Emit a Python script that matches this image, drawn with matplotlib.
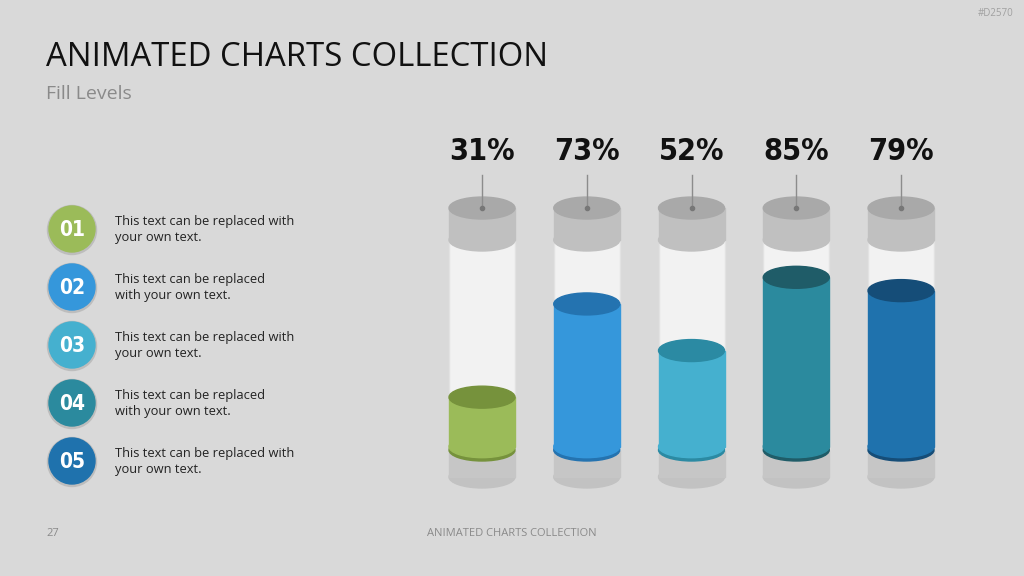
import matplotlib.pyplot as plt
from matplotlib import font_manager
from matplotlib.font_manager import FontProperties
from matplotlib.patches import Ellipse, Rectangle, Circle

# data
labels = ['31%', '73%', '52%', '85%', '79%']
values = [31, 73, 52, 85, 79]
fill_colors = ['#9bbb59', '#3597db', '#45b0cf', '#2b8a9e', '#1f72ad']
top_colors = ['#76923c', '#2473b0', '#2b8aa3', '#1f5c68', '#154d78']
numbers = ['01', '02', '03', '04', '05']
item_text = ['This text can be replaced with\nyour own text.',
             'This text can be replaced\nwith your own text.',
             'This text can be replaced with\nyour own text.',
             'This text can be replaced\nwith your own text.',
             'This text can be replaced with\nyour own text.']

BG = '#d9d9d9'
BODY = ['Open Sans', 'DejaVu Sans']

# look for a condensed bold face for the big numbers
cands = [f for f in font_manager.fontManager.ttflist
         if ('ondensed' in f.fname or 'Narrow' in f.fname)]
bold = [f for f in cands if 'Bold' in f.fname and 'Oblique' not in f.fname
        and 'Italic' not in f.fname]
if bold:
    big_font = FontProperties(fname=bold[0].fname)
    big_size, num_size = 22, 15
elif cands:
    big_font = FontProperties(fname=cands[0].fname, weight='bold')
    big_size, num_size = 22, 15
else:
    big_font = FontProperties(family='DejaVu Sans', weight='bold')
    big_size, num_size = 19, 14

fig = plt.figure(figsize=(10.24, 5.76), dpi=100, facecolor=BG)

# full-figure layer in pixel coords for the text/list
page = fig.add_axes([0, 0, 1, 1])
page.set_xlim(0, 1024)
page.set_ylim(576, 0)
page.axis('off')

page.text(46, 58, 'ANIMATED CHARTS COLLECTION', fontsize=23.7, family=BODY,
          color='#111111', va='center', ha='left')
page.text(46, 94, 'Fill Levels', fontsize=14, family=BODY,
          color='#8a8a8a', va='center', ha='left')
page.text(1014, 14, '#D2570', fontsize=7, family=BODY, color='#a0a0a0',
          va='center', ha='right')
page.text(46, 534, '27', fontsize=8, family=BODY, color='#8a8a8a', va='center')
page.text(512, 534, 'ANIMATED CHARTS COLLECTION', fontsize=8, family=BODY,
          color='#8a8a8a', va='center', ha='center')

for i, (num, txt) in enumerate(zip(numbers, item_text)):
    cy = 229 + 58 * i
    page.add_patch(Circle((72, cy + 1), 24.5, color='#bdbdbd', zorder=2))
    page.add_patch(Circle((72, cy), 23, color=fill_colors[i], zorder=3))
    page.text(72, cy + 1, num, fontproperties=big_font, fontsize=num_size,
              color='white', ha='center', va='center', zorder=4)
    page.text(115, cy, txt, fontsize=9.3, family=BODY, color='#222222',
              ha='left', va='center', linespacing=1.3)

# cylinder chart: x = index, y = percent
ax = fig.add_axes([420 / 1024, 76 / 576, 540 / 1024, 370 / 576])
ax.set_xlim(-0.592, 4.563)
ax.set_ylim(-15.32, 151.35)
ax.axis('off')

w = 0.63
eh = 9.9
base_y = -4.95
fill_y = 7.2
tube_top = 101.8
cap_top = 116.2

for i, v in enumerate(values):
    # grey base
    ax.add_patch(Ellipse((i, base_y), w, eh, color='#c2c2c2', zorder=1))
    ax.add_patch(Rectangle((i - w / 2, base_y), w, fill_y - base_y,
                           color='#c6c6c6', zorder=1))
    # glass tube
    ax.add_patch(Rectangle((i - w / 2, fill_y), w, tube_top - fill_y,
                           facecolor='#f2f2f2', edgecolor='#e2e2e2',
                           lw=1, zorder=2))
    # liquid
    ax.add_patch(Ellipse((i, fill_y), w, eh, color=top_colors[i], zorder=3))
    ax.add_patch(Ellipse((i, fill_y + 1.5), w, eh, color=fill_colors[i],
                         zorder=3))
    ax.add_patch(Rectangle((i - w / 2, fill_y + 1.5), w, v - fill_y - 1.5,
                           color=fill_colors[i], zorder=3))
    ax.add_patch(Ellipse((i, v), w, eh, color=top_colors[i], zorder=4))
    # cap
    ax.add_patch(Ellipse((i, tube_top), w, eh, color='#c0c0c0', zorder=5))
    ax.add_patch(Rectangle((i - w / 2, tube_top), w, cap_top - tube_top,
                           color='#c0c0c0', zorder=5))
    ax.add_patch(Ellipse((i, cap_top), w, eh, color='#a9a9a9', zorder=6))
    ax.plot([i, i], [cap_top, 131], color='#8c8c8c', lw=1, zorder=7)
    ax.plot(i, cap_top, 'o', color='#777777', ms=3, zorder=7)
    ax.text(i, 141.5, labels[i], fontproperties=big_font, fontsize=big_size,
            color='#111111', ha='center', va='center')

fig.savefig('out.png', dpi=100, facecolor=BG)
